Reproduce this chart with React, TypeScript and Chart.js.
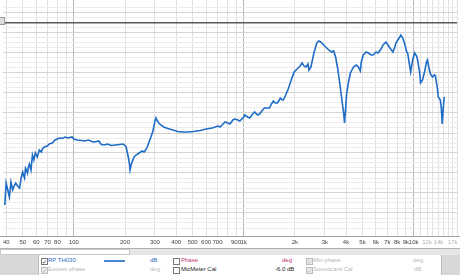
import React, { useEffect, useRef } from "react";
import { Chart, registerables } from "chart.js";
Chart.register(...registerables);

// Frequency response (RP TH030)
const freqHz = [
  39.2, 39.9, 40.8, 41.7, 42.6, 43.6, 44.5, 45.4, 46.6, 47.9, 48.9, 49.9, 50.5, 51.2, 51.9, 52.6, 53.3, 54.0, 54.7, 55.9,
  57.0, 58.1, 59.3, 60.9, 62.6, 64.3, 65.2, 66.9, 69.7, 71.6, 74.5, 77.5, 79.7, 82.9, 85.2, 88.7, 92.3, 97.4, 100, 104,
  111, 116, 122, 127, 132, 140, 145, 151, 158, 166, 176, 185, 195, 201, 203, 206, 209, 212, 214, 217,
  220, 226, 232, 242, 252, 259, 269, 277, 284, 292, 296, 300, 304, 308, 316, 325, 338, 357, 382, 408,
  436, 466, 505, 555, 601, 652, 706, 725, 755, 775, 807, 829, 863, 887, 923, 947, 1000, 1013, 1055, 1084,
  1128, 1159, 1206, 1239, 1290, 1325, 1379, 1417, 1455, 1494, 1535, 1577, 1619, 1641, 1686, 1709, 1755,
  1827, 1902, 1980, 2061, 2145, 2203, 2263, 2325, 2388, 2420, 2486, 2587, 2693, 2766, 2841, 2957, 3038, 3162,
  3292, 3381, 3473, 3567, 3664, 3764, 3815, 3867, 3919, 3972, 4026, 4135, 4247, 4421, 4602, 4726, 4853, 4919, 5053, 5260,
  5404, 5623, 5776, 6012, 6175, 6428, 6604, 6874, 7061, 7253, 7550, 7755, 7860, 8072, 8291, 8403, 8630, 8865, 9106, 9229,
  9353, 9607, 9867, 10135, 10410, 10550, 10840, 10980, 11280, 11590, 11900, 12060, 12390, 12560, 12900, 13250, 13430, 13790, 13970, 14360,
  14550, 14740, 14940, 15140,
];
const splDb = [
  56.6, 61.0, 59.6, 58.2, 61.2, 59.6, 60.4, 61.0, 60.4, 60.0, 62.0, 63.2, 62.6, 62.0, 64.0, 63.6, 63.0, 64.2, 64.8, 63.6,
  66.6, 65.6, 67.0, 66.2, 67.6, 67.2, 67.8, 68.2, 68.4, 68.8, 69.0, 69.6, 69.8, 70.0, 69.9, 70.2, 70.0, 70.2, 69.8, 69.6,
  69.5, 69.4, 69.6, 69.3, 69.2, 69.4, 68.7, 68.6, 68.8, 68.5, 68.6, 68.7, 68.8, 68.4, 68.2, 67.2, 66.2, 65.0, 63.6, 64.6,
  65.2, 66.2, 66.6, 67.0, 67.4, 67.2, 68.0, 69.2, 70.2, 71.4, 72.4, 73.4, 74.0, 73.6, 73.0, 72.6, 72.2, 71.9, 71.6, 71.3,
  71.2, 71.2, 71.3, 71.5, 71.8, 72.0, 72.4, 72.2, 72.8, 73.2, 73.0, 72.8, 73.6, 73.8, 73.6, 73.4, 74.2, 74.6, 74.2, 74.0,
  74.8, 75.2, 74.6, 74.8, 75.6, 76.0, 76.0, 76.0, 76.8, 77.4, 77.0, 77.0, 77.6, 78.0, 77.6, 77.6, 78.4,
  79.8, 81.6, 83.2, 83.8, 84.4, 85.0, 84.4, 84.2, 84.8, 83.6, 84.2, 87.0, 89.0, 89.4, 89.2, 88.6, 88.2, 87.6,
  87.2, 87.4, 86.2, 84.0, 81.2, 78.2, 76.6, 75.2, 73.0, 75.6, 78.6, 81.2, 83.0, 84.2, 84.6, 84.2, 83.4, 85.2, 86.6, 87.2,
  87.0, 86.6, 86.6, 87.2, 87.0, 87.8, 88.6, 89.2, 88.6, 88.0, 87.2, 88.2, 89.0, 89.6, 90.2, 90.6, 90.0, 88.8, 87.2, 87.0,
  85.6, 83.2, 85.6, 87.0, 86.4, 85.6, 83.2, 81.0, 81.6, 83.2, 85.2, 85.6, 83.6, 82.8, 82.2, 82.6, 82.4, 80.0, 78.2, 77.6,
  76.0, 72.8, 76.0, 78.2,
];

const gridFreqs = [
  40, 50, 60, 70, 80, 90, 100, 200, 300, 400, 500, 600, 700, 800, 900,
  1000, 2000, 3000, 4000, 5000, 6000, 7000, 8000, 9000,
  10000, 11000, 12000, 13000, 14000, 15000, 16000, 17000, 18000,
];
const labelFreqs = [
  40, 50, 60, 70, 80, 100, 200, 300, 400, 500, 600, 700, 900,
  1000, 2000, 3000, 4000, 5000, 6000, 7000, 8000, 9000, 10000, 12000, 14000, 17000,
];
const fadedLabels = [12000, 14000, 17000];
const decadeFreqs = [100, 1000, 10000];

const fmt = (f: number) => (f >= 1000 ? f / 1000 + "k" : String(f));

const legendText: React.CSSProperties = {
  position: "absolute",
  fontFamily: "Arial, 'Liberation Sans', sans-serif",
  fontSize: 6,
  lineHeight: "7px",
  whiteSpace: "nowrap",
};

function Check({ x, y, on, faded }: { x: number; y: number; on: boolean; faded?: boolean }) {
  return (
    <div
      style={{
        position: "absolute",
        left: x,
        top: y,
        width: 5,
        height: 5,
        border: `1px solid ${faded ? "#bbb" : "#777"}`,
        background: faded ? "#e8e8e8" : "#fff",
        fontSize: 6,
        lineHeight: "5px",
        color: faded ? "#bbb" : "#222",
        textAlign: "center",
        fontFamily: "DejaVu Sans, sans-serif",
        overflow: "hidden",
      }}
    >
      {on ? "✓" : ""}
    </div>
  );
}

export default function App() {
  const ref = useRef<HTMLCanvasElement>(null);
  useEffect(() => {
    document.body.style.margin = "0";
    const bgPlugin = {
      id: "bg",
      beforeDraw(c: any) {
        const ctx = c.ctx;
        ctx.save();
        ctx.fillStyle = "#ffffff";
        ctx.fillRect(0, 0, c.width, c.height);
        ctx.restore();
      },
      afterDraw(c: any) {
        const ctx = c.ctx;
        const b = c.chartArea.bottom;
        ctx.save();
        ctx.strokeStyle = "#a0a0a0";
        ctx.lineWidth = 1;
        ctx.beginPath();
        ctx.moveTo(0, b + 0.5);
        ctx.lineTo(c.width, b + 0.5);
        ctx.stroke();
        ctx.restore();
      },
    };
    const chart = new Chart(ref.current as HTMLCanvasElement, {
      type: "line",
      data: {
        datasets: [
          {
            data: freqHz.map((f, i) => ({ x: f, y: splDb[i] })),
            borderColor: "#1f6cc6",
            borderWidth: 1.6,
            pointRadius: 0,
            tension: 0,
            fill: false,
          },
        ],
      },
      options: {
        responsive: false,
        animation: false,
        devicePixelRatio: 1,
        layout: { padding: 0 },
        plugins: { legend: { display: false }, tooltip: { enabled: false } },
        scales: {
          x: {
            type: "logarithmic",
            min: 38.1,
            max: 18000,
            afterBuildTicks: (s: any) => {
              s.ticks = gridFreqs.map((v) => ({ value: v }));
            },
            afterFit: (s: any) => {
              s.height = 14;
            },
            ticks: {
              autoSkip: false,
              maxRotation: 0,
              minRotation: 0,
              padding: 3,
              font: { size: 6, family: "Arial, 'Liberation Sans', sans-serif" },
              color: (ctx: any) => (fadedLabels.includes(ctx.tick.value) ? "#b0b0b0" : "#444"),
              callback: (v: any) => (labelFreqs.includes(Number(v)) ? fmt(Number(v)) : ""),
            },
            grid: {
              drawTicks: false,
              color: (ctx: any) => (decadeFreqs.includes(ctx.tick?.value) ? "#b8b8b8" : "#e0e0e0"),
            },
            border: { display: false },
          },
          y: {
            min: 50.4,
            max: 97.6,
            afterFit: (s: any) => {
              s.width = 0;
            },
            ticks: { display: false, stepSize: 1 },
            grid: {
              drawTicks: false,
              lineWidth: (ctx: any) => (ctx.tick?.value === 93 ? 1.5 : 1),
              color: (ctx: any) => {
                const v = ctx.tick?.value;
                if (v === undefined || !Number.isInteger(v)) return "rgba(0,0,0,0)";
                if (v === 93) return "#5a5a5a";
                if ((v - 95) % 4 === 0) return "#d4d4d4";
                return "#ececec";
              },
            },
            border: { display: false },
          },
        },
      },
      plugins: [bgPlugin],
    } as any);
    return () => chart.destroy();
  }, []);

  return (
    <div style={{ position: "relative", width: 460, height: 275, overflow: "hidden", background: "#fff" }}>
      <canvas ref={ref} width={460} height={250} style={{ display: "block", width: 460, height: 250 }} />
      {/* small dropdown box */}
      <div
        style={{
          position: "absolute",
          left: 0,
          top: 17,
          width: 4,
          height: 6,
          background: "#ddd",
          border: "1px solid #999",
          borderLeft: "none",
        }}
      />
      {/* scroll strip */}
      <div style={{ position: "absolute", left: 0, top: 248, width: 460, height: 6, background: "#e6e6e6", borderTop: "1px solid #b0b0b0" }} />
      <div style={{ position: "absolute", left: 0, top: 249, width: 128, height: 4, background: "#fff", border: "1px solid #c8c8c8" }} />
      {/* legend panel */}
      <div style={{ position: "absolute", left: 0, top: 255, width: 460, height: 20, background: "#d8d8d8" }} />
      <div style={{ position: "absolute", left: 38, top: 255, width: 402, height: 20, background: "#fff", borderLeft: "1px solid #bbb", borderRight: "1px solid #bbb" }} />

      <Check x={41} y={258} on />
      <div style={{ ...legendText, left: 48, top: 257, color: "#2a6bc0" }}>RP TH030</div>
      <div style={{ position: "absolute", left: 104, top: 260, width: 21, height: 2, background: "#4a86cf" }} />
      <div style={{ ...legendText, left: 150, top: 257, color: "#2a6bc0" }}>dB</div>

      <Check x={173} y={258} on={false} />
      <div style={{ ...legendText, left: 181, top: 257, color: "#c2306e" }}>Phase</div>
      <div style={{ ...legendText, left: 282, top: 257, color: "#c2306e" }}>deg</div>

      <Check x={306} y={258} on faded />
      <div style={{ ...legendText, left: 313, top: 257, color: "#b8b8b8" }}>Min phase</div>
      <div style={{ ...legendText, left: 413, top: 257, color: "#b8b8b8" }}>deg</div>

      <Check x={41} y={267} on faded />
      <div style={{ ...legendText, left: 48, top: 266, color: "#b8b8b8" }}>Excess phase</div>
      <div style={{ ...legendText, left: 150, top: 266, color: "#b8b8b8" }}>deg</div>

      <Check x={173} y={267} on={false} />
      <div style={{ ...legendText, left: 181, top: 266, color: "#222" }}>MicMeter Cal</div>
      <div style={{ ...legendText, left: 275, top: 266, color: "#222" }}>-6.0 dB</div>

      <Check x={306} y={267} on faded />
      <div style={{ ...legendText, left: 313, top: 266, color: "#b8b8b8" }}>Soundcard Cal</div>
      <div style={{ ...legendText, left: 414, top: 266, color: "#b8b8b8" }}>dB</div>
    </div>
  );
}
